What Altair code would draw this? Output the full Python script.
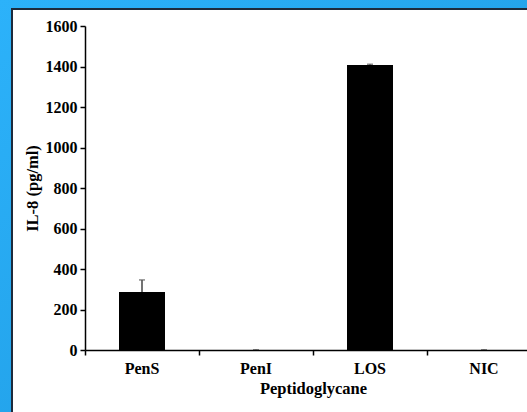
import altair as alt
import pandas as pd

categories = ["PenS", "PenI", "LOS", "NIC"]
values = [286, 0, 1407, 0]
errors = [60, 1, 4, 1]

df = pd.DataFrame({"cat": categories, "val": values, "err": errors})
df["top"] = df["val"] + df["err"]

FONT = "Liberation Serif"

xscale = alt.Scale(domain=categories, range=[0, 456], paddingInner=0, paddingOuter=0)
yscale = alt.Scale(domain=[0, 1600])

deco = pd.DataFrame({"a": [0]})
grad = alt.Gradient(
    gradient="linear",
    stops=[alt.GradientStop(color="#2cb2fa", offset=0),
           alt.GradientStop(color="#1c97de", offset=1)],
    x1=0, y1=0, x2=1, y2=1,
)
bg = alt.Chart(deco).mark_rect(fill=grad).encode(
    x=alt.value(-85), x2=alt.value(460), y=alt.value(-26), y2=alt.value(400)
)
panel = alt.Chart(deco).mark_rect(fill="white", stroke="#1d2b3c", strokeWidth=2).encode(
    x=alt.value(-73), x2=alt.value(470), y=alt.value(-17), y2=alt.value(400)
)

base = alt.Chart(df)
bars = base.mark_bar(color="black", width=46).encode(
    x=alt.X("cat:N", scale=xscale, sort=categories,
            axis=alt.Axis(title="Peptidoglycane", labelAngle=0, bandPosition=0,
                          labelPadding=5, titlePadding=4, zindex=1)),
    y=alt.Y("val:Q", scale=yscale,
            axis=alt.Axis(title="IL-8 (pg/ml)", values=list(range(0, 1601, 200)),
                          format="d", grid=False, titlePadding=5, labelPadding=3,
                          zindex=1)),
)
rules = base.mark_rule(color="#444444", strokeWidth=1.5).encode(
    x=alt.X("cat:N", scale=xscale, sort=categories),
    y=alt.Y("val:Q", scale=yscale),
    y2="top:Q",
)
caps = base.mark_tick(color="#555555", size=6, thickness=1.5, orient="horizontal").encode(
    x=alt.X("cat:N", scale=xscale, sort=categories),
    y=alt.Y("top:Q", scale=yscale),
)

chart = alt.layer(bg, panel, bars, rules, caps).properties(
    width=442, height=324,
    autosize=alt.AutoSizeParams(type="none"),
    padding={"left": 85, "top": 26, "right": 0, "bottom": 62},
    background="#22a3ec",
).configure_view(stroke=None).configure_axis(
    domainColor="black", domainWidth=1.5, tickColor="black", tickWidth=1.5,
    tickSize=5, labelFont=FONT, labelFontSize=16, labelFontWeight="bold",
    labelColor="black", titleFont=FONT, titleFontSize=16.5, titleFontWeight="bold",
    titleColor="black", zindex=1,
)

chart.save("out.html", embed_options={"renderer": "svg", "actions": False})
